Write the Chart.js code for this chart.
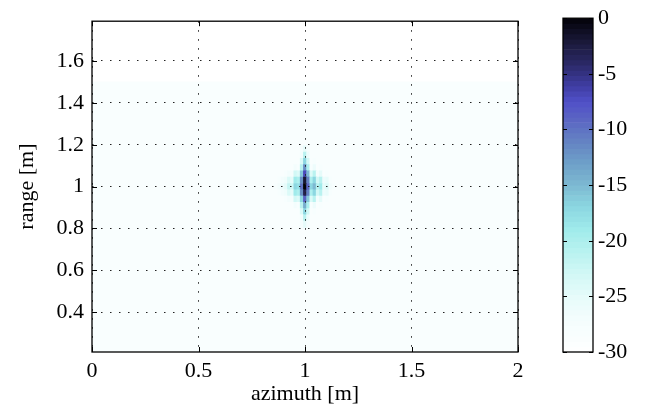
<!DOCTYPE html>
<html>
<head>
<meta charset="utf-8">
<script src="https://cdn.jsdelivr.net/npm/chart.js@4.4.0/dist/chart.umd.min.js"></script>
<style>
  html, body { margin: 0; padding: 0; background: #fff; }
  #wrap { position: relative; width: 646px; height: 416px; }
  #main { position: absolute; left: 0; top: 0; width: 646px; height: 416px; }
  #bar { position: absolute; left: 540px; top: 0; width: 106px; height: 416px; }
</style>
</head>
<body>
<div id="wrap">
  <div id="main"><canvas id="img"></canvas></div>
  <div id="bar"><canvas id="cbar"></canvas></div>
</div>
<script>
// point target response, values in dB
var azimuthBins = [0.85, 0.865, 0.88, 0.895, 0.91, 0.925, 0.94, 0.955, 0.97, 0.985, 1.0,
                   1.015, 1.03, 1.045, 1.06, 1.075, 1.09, 1.105, 1.12, 1.135, 1.15];
var rangeBins = [1.18, 1.15, 1.12, 1.09, 1.06, 1.03, 1.00, 0.97, 0.94, 0.91, 0.88, 0.85, 0.82];
var power = [
  [-28.5,-28.5,-28.5,-28.5,-28.5,-28.5,-28.5,-28.5,-28.5,-27.5,-25,-27.5,-28.5,-28.5,-28.5,-28.5,-28.5,-28.5,-28.5,-28.5,-28.5],
  [-28.5,-28.5,-28.5,-28.5,-28.5,-28.5,-28.5,-28.5,-28.5,-27,-21,-26,-28.5,-28.5,-28.5,-28.5,-28.5,-28.5,-28.5,-28.5,-28.5],
  [-28.5,-28.5,-28.5,-28.5,-28.5,-28.5,-28.5,-28.5,-28.5,-24,-17,-23,-28.5,-28,-28.5,-28.5,-28.5,-28.5,-28.5,-28.5,-28.5],
  [-28.5,-28.5,-28.5,-28.5,-28.5,-28.5,-28.5,-27,-28,-21,-12,-20,-28,-26,-28.5,-28,-28.5,-28.5,-28.5,-28.5,-28.5],
  [-28.5,-28.5,-28.5,-28.5,-28,-27,-27.5,-23,-24,-16,-7,-15,-24,-21,-27,-25,-28.5,-28,-28.5,-28.5,-28.5],
  [-28.5,-28.5,-28,-27,-26.5,-24,-25,-19,-20,-12,-2,-11,-20,-17,-23,-21,-26,-25.5,-28,-28.5,-28.5],
  [-28.5,-28,-27,-26,-25,-22,-23,-17,-18,-10,0,-9,-17,-15,-21,-19,-25,-24,-27,-28,-28.5],
  [-28.5,-28.5,-28,-27,-26.5,-24,-25,-19,-20,-12,-3,-11,-20,-17,-23,-21,-26,-25.5,-28,-28.5,-28.5],
  [-28.5,-28.5,-28.5,-28.5,-28,-27,-27.5,-23,-24,-17,-9,-16,-24,-21,-27,-25,-28.5,-28,-28.5,-28.5,-28.5],
  [-28.5,-28.5,-28.5,-28.5,-28.5,-28.5,-28.5,-27,-28,-21,-14,-20,-28,-26,-28.5,-28,-28.5,-28.5,-28.5,-28.5,-28.5],
  [-28.5,-28.5,-28.5,-28.5,-28.5,-28.5,-28.5,-28.5,-28.5,-24,-17,-23,-28.5,-28,-28.5,-28.5,-28.5,-28.5,-28.5,-28.5,-28.5],
  [-28.5,-28.5,-28.5,-28.5,-28.5,-28.5,-28.5,-28.5,-28.5,-27,-21,-26,-28.5,-28.5,-28.5,-28.5,-28.5,-28.5,-28.5,-28.5,-28.5],
  [-28.5,-28.5,-28.5,-28.5,-28.5,-28.5,-28.5,-28.5,-28.5,-27.5,-25,-27.5,-28.5,-28.5,-28.5,-28.5,-28.5,-28.5,-28.5,-28.5,-28.5]
];
var sceneLevel = -28.5;          // clutter floor of the imaged scene
var sceneAzimuth = [0, 2];
var sceneRange = [0.21, 1.5];

var xTicks = [0, 0.5, 1, 1.5, 2];
var yTicks = [0.4, 0.6, 0.8, 1, 1.2, 1.4, 1.6];
var cbTicks = [-30, -25, -20, -15, -10, -5, 0];

// colour map, dB -> rgb
var cmap = [
  [-30, 255, 255, 255], [-27, 243, 253, 253], [-25, 230, 251, 250], [-23, 210, 248, 246],
  [-21, 185, 242, 240], [-19, 160, 235, 235], [-17, 140, 215, 225], [-15, 125, 185, 210],
  [-13, 110, 160, 200], [-11, 100, 130, 195], [-9, 90, 100, 195], [-7.5, 80, 80, 200],
  [-6, 62, 60, 160], [-4, 42, 40, 100], [-2, 25, 24, 55], [0, 3, 3, 8]
];
function dbColor(v) {
  if (v <= cmap[0][0]) return 'rgb(255,255,255)';
  for (var i = 1; i < cmap.length; i++) {
    if (v <= cmap[i][0]) {
      var a = cmap[i - 1], b = cmap[i], t = (v - a[0]) / (b[0] - a[0]);
      return 'rgb(' + Math.round(a[1] + t * (b[1] - a[1])) + ',' +
        Math.round(a[2] + t * (b[2] - a[2])) + ',' + Math.round(a[3] + t * (b[3] - a[3])) + ')';
    }
  }
  return 'rgb(3,3,8)';
}

var serif = { family: "'Liberation Serif', 'DejaVu Serif', serif", size: 22 };
Chart.defaults.color = '#000';
Chart.defaults.font = serif;

var halfH = Math.abs(rangeBins[0] - rangeBins[1]) / 2;
var cells = [];
rangeBins.forEach(function (r, i) {
  azimuthBins.forEach(function (a, j) {
    cells.push({ x: a, y: [r - halfH, r + halfH], v: power[i][j] });
  });
});

function fixTicks(list) {
  return function (scale) { scale.ticks = list.map(function (v) { return { value: v }; }); };
}
function fmt(v) { return String(+(+v).toFixed(2)); }

// inward ticks and box, matlab style
var frame = {
  id: 'frame',
  afterDraw: function (chart) {
    var c = chart.ctx, a = chart.chartArea, o = chart.options.plugins.frame;
    var sx = chart.scales.x, sy = chart.scales.y;
    c.save();
    c.strokeStyle = '#000';
    c.lineWidth = 1;
    c.beginPath();
    if (o.xt) o.xt.forEach(function (v) {
      var p = Math.round(sx.getPixelForValue(v)) + 0.5;
      c.moveTo(p, a.bottom); c.lineTo(p, a.bottom - o.len);
      c.moveTo(p, a.top); c.lineTo(p, a.top + o.len);
    });
    o.yt.forEach(function (v) {
      var p = Math.round(sy.getPixelForValue(v)) + 0.5;
      c.moveTo(a.left, p); c.lineTo(a.left + o.len, p);
      c.moveTo(a.right, p); c.lineTo(a.right - o.len, p);
    });
    c.stroke();
    c.lineWidth = 1.3;
    c.strokeRect(a.left, a.top, a.right - a.left, a.bottom - a.top);
    c.restore();
  }
};

new Chart(document.getElementById('img'), {
  type: 'bar',
  data: {
    datasets: [
      {
        data: cells,
        backgroundColor: function (ctx) { return ctx.raw ? dbColor(ctx.raw.v) : '#fff'; },
        borderWidth: 0,
        grouped: false,
        barPercentage: 1,
        categoryPercentage: 1
      },
      {
        data: [{ x: (sceneAzimuth[0] + sceneAzimuth[1]) / 2, y: sceneRange, v: sceneLevel }],
        xAxisID: 'x2',
        backgroundColor: dbColor(sceneLevel),
        borderWidth: 0,
        grouped: false,
        barPercentage: 1,
        categoryPercentage: 1
      }
    ]
  },
  plugins: [frame],
  options: {
    responsive: true,
    maintainAspectRatio: false,
    animation: false,
    events: [],
    layout: { padding: { left: 0, right: 128, top: 17, bottom: 0 } },
    plugins: {
      legend: { display: false },
      tooltip: { enabled: false },
      frame: { xt: xTicks, yt: yTicks, len: 5 }
    },
    scales: {
      x: {
        type: 'linear', min: 0, max: 2, offset: false,
        afterBuildTicks: fixTicks(xTicks),
        afterFit: function (s) { s.height = 64; },
        grid: { color: '#222', lineWidth: 1, drawTicks: false, offset: false, z: 1 },
        border: { display: false, dash: [1.5, 7.5] },
        ticks: { padding: 6, maxRotation: 0, callback: fmt },
        title: { display: true, text: 'azimuth [m]', padding: { top: 0, bottom: 9 } }
      },
      x2: {
        type: 'linear', display: false, min: sceneAzimuth[0], max: sceneAzimuth[1], offset: false,
        afterBuildTicks: fixTicks(sceneAzimuth)
      },
      y: {
        type: 'linear', min: 0.21, max: 1.79,
        afterBuildTicks: fixTicks(yTicks),
        afterFit: function (s) { s.width = 92; },
        grid: { color: '#222', lineWidth: 1, drawTicks: false, offset: false, z: 1 },
        border: { display: false, dash: [1.5, 7.5] },
        ticks: { padding: 8, callback: fmt },
        title: { display: true, text: 'range [m]', padding: { top: 14, bottom: 0 } }
      }
    }
  }
});

// colour bar
var nLevels = 64;
var levels = [];
for (var i = 0; i < nLevels; i++) levels.push(cbTicks[0] + i * (cbTicks[cbTicks.length - 1] - cbTicks[0]) / nLevels);
var step = (cbTicks[cbTicks.length - 1] - cbTicks[0]) / nLevels;

new Chart(document.getElementById('cbar'), {
  type: 'bar',
  data: {
    datasets: [{
      data: levels.map(function (l) { return { x: 0.5, y: [l, l + step], v: l + step / 2 }; }),
      backgroundColor: function (ctx) { return ctx.raw ? dbColor(ctx.raw.v) : '#fff'; },
      borderWidth: 0,
      grouped: false,
      barPercentage: 1,
      categoryPercentage: 1
    }]
  },
  plugins: [frame],
  options: {
    responsive: true,
    maintainAspectRatio: false,
    animation: false,
    events: [],
    layout: { padding: { left: 23, right: 0, top: 17, bottom: 64 } },
    plugins: {
      legend: { display: false },
      tooltip: { enabled: false },
      frame: { xt: null, yt: cbTicks, len: 4 }
    },
    scales: {
      x: {
        type: 'linear', display: false, min: 0, max: 1, offset: false,
        afterBuildTicks: fixTicks([0, 1])
      },
      y: {
        type: 'linear', position: 'right', min: cbTicks[0], max: cbTicks[cbTicks.length - 1],
        afterBuildTicks: fixTicks(cbTicks),
        afterFit: function (s) { s.width = 53; },
        grid: { display: false, drawTicks: false },
        border: { display: false },
        ticks: { padding: 5, callback: function (v) { return String(v); } }
      }
    }
  }
});
</script>
</body>
</html>
